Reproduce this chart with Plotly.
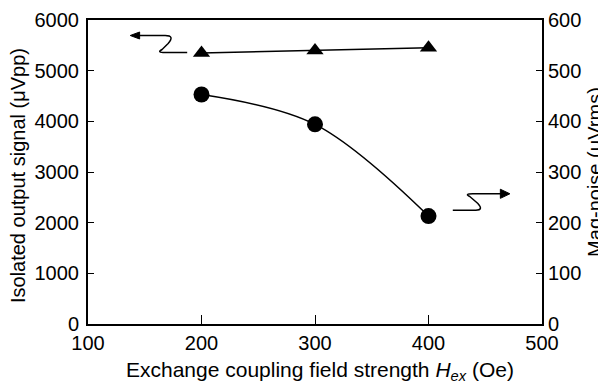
import plotly.graph_objects as go

# Data
hex_field = [200, 300, 400]
output_signal = [5350, 5400, 5450]      # left axis, μVpp (triangles)
mag_noise = [453, 394, 213]             # right axis, μVrms (circles)
x_ticks = [100, 200, 300, 400, 500]
y1_ticks = [0, 1000, 2000, 3000, 4000, 5000, 6000]
y2_ticks = [0, 100, 200, 300, 400, 500, 600]

FONT = "Liberation Sans, Arial, sans-serif"

fig = go.Figure()
fig.add_trace(go.Scatter(
    x=hex_field, y=output_signal, mode="lines+markers",
    line=dict(color="black", width=1.5),
    marker=dict(symbol="triangle-up", size=15, color="black"),
    yaxis="y", showlegend=False))
fig.add_trace(go.Scatter(
    x=hex_field, y=mag_noise, mode="lines+markers",
    line=dict(color="black", width=1.5, shape="spline", smoothing=1),
    marker=dict(symbol="circle", size=16, color="black"),
    yaxis="y2", showlegend=False))

# curly arrows (decorations, in left-axis data units)
left_path = ("M 143,5694 L 168.0,5694 Q 176.8,5694 170.6,5536 L 165.3,5418 "
             "Q 160.0,5359 168.0,5359 L 187.4,5359")
left_head = "M 137.2,5694 L 145.5,5763 L 145.5,5625 Z"
right_path = ("M 421.4,2246 L 441.7,2246 Q 448.8,2246 443.5,2378 "
              "L 436.4,2516 Q 431.2,2570 439.1,2570 L 464,2570")
right_head = "M 471.7,2570 L 463.3,2660 L 463.3,2480 Z"
for p in (left_path, right_path):
    fig.add_shape(type="path", path=p, xref="x", yref="y",
                  line=dict(color="black", width=1.5))
for p in (left_head, right_head):
    fig.add_shape(type="path", path=p, xref="x", yref="y",
                  line=dict(color="black", width=1), fillcolor="black")

axis_common = dict(showgrid=False, zeroline=False, linecolor="black",
                   linewidth=2, ticks="inside", tickcolor="black",
                   automargin=False,
                   tickfont=dict(family=FONT, size=20, color="black"))

fig.update_layout(
    width=598, height=381,
    margin=dict(l=80, r=64, t=12, b=65),
    plot_bgcolor="white", paper_bgcolor="white",
    xaxis=dict(range=[100, 500], tickvals=x_ticks, ticklen=9, mirror=True,
               **axis_common),
    yaxis=dict(range=[0, 6000], tickvals=y1_ticks, ticklen=6,
               ticklabelstandoff=3, **axis_common),
    yaxis2=dict(range=[0, 600], tickvals=y2_ticks, ticklen=6, overlaying="y",
                side="right", **axis_common),
)

title_font = dict(family=FONT, size=20, color="black")
fig.add_annotation(text="Exchange coupling field strength <i>H<sub>ex</sub></i> (Oe)",
                   xref="paper", yref="paper", x=0.51, y=-0.153,
                   xanchor="center", yanchor="middle", showarrow=False,
                   font=dict(family=FONT, size=21, color="black"))
fig.add_annotation(text="Isolated output signal (μVpp)", textangle=-90,
                   xref="paper", yref="paper", x=-0.1555, y=0.488,
                   xanchor="center", yanchor="middle", showarrow=False,
                   font=title_font)
fig.add_annotation(text="Mag-noise (μVrms)", textangle=-90,
                   xref="paper", yref="paper", x=1.1165, y=0.50,
                   xanchor="center", yanchor="middle", showarrow=False,
                   font=title_font)

fig.write_html("out.html")
